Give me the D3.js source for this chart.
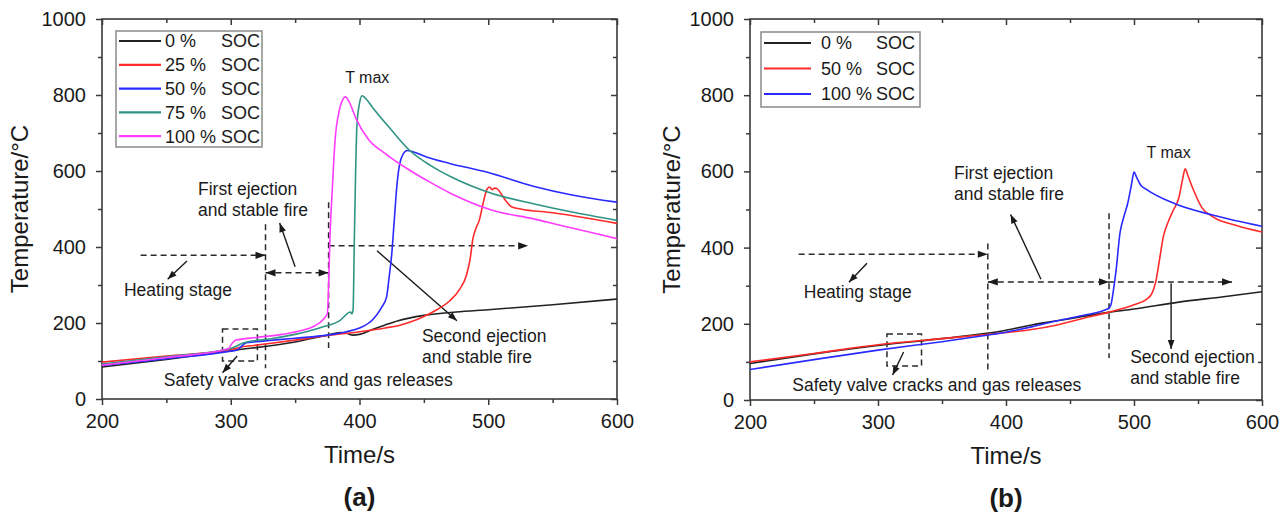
<!DOCTYPE html>
<html><head><meta charset="utf-8">
<script src="https://cdn.jsdelivr.net/npm/d3@7"></script>
<style>
body{margin:0;background:#fff}
svg{display:block}
text{font-family:"Liberation Sans",Arial,Helvetica,sans-serif;fill:#1a1a1a}
</style>
</head><body>
<svg id="chart" width="1288" height="516"></svg>
<script>
// ---------- axis ticks ----------
const xMajor = [200, 300, 400, 500, 600];
const xMinor = [250, 350, 450, 550];
const yMajor = [0, 200, 400, 600, 800, 1000];
const yMinor = [100, 300, 500, 700, 900];

// ---------- panel (a) series: [time s, temperature °C] ----------
const a_soc0 = [[200,84],[250,104],[300,127],[350,150],[375,168],[385,175],[390,173],[395,168],[400,170],[410,183],[420,195],[430,206],[450,220],[475,229],[500,235],[550,248],[600,263]];
const a_soc25 = [[200,97],[250,113],[300,130],[305,134],[310,138],[318,141],[330,146],[350,155],[375,167],[400,177],[420,187],[430,193],[440,203],[450,217],[460,235],[470,258],[478,290],[483,325],[486,370],[488,420],[490,445],[493,470],[496,515],[499,552],[501,558],[503,551],[505,555],[507,553],[510,540],[514,520],[518,506],[525,500],[550,490],[575,477],[600,462]];
const a_soc50 = [[200,88],[250,106],[300,126],[305,129],[308,138],[312,148],[320,151],[330,154],[350,160],[375,168],[390,177],[400,187],[410,208],[417,240],[421,268],[423,320],[425,380],[427,470],[429,560],[431,615],[434,645],[437,654],[442,650],[452,637],[470,620],[500,596],[535,560],[565,537],[600,518]];
const a_soc75 = [[200,92],[250,111],[300,133],[305,140],[310,148],[330,158],[350,170],[370,188],[385,207],[393,229],[394,224],[395,234],[396,420],[397,600],[398,720],[400,778],[402,798],[405,790],[410,768],[423,715],[439,654],[455,615],[471,585],[503,541],[535,514],[565,492],[600,470]];
const a_soc100 = [[200,89],[250,109],[298,132],[301,146],[304,155],[320,162],[340,170],[355,180],[365,192],[372,210],[375,225],[376,300],[377,420],[379,560],[381,680],[384,755],[387,788],[389,795],[392,782],[397,740],[407,683],[420,646],[439,602],[455,570],[471,541],[503,497],[535,474],[565,450],[600,422]];

// ---------- panel (b) series ----------
const b_soc0 = [[200,96],[250,121],[300,143],[350,161],[385,175],[400,183],[420,197],[440,208],[460,219],[480,230],[500,239],[535,257],[570,271],[600,284]];
const b_soc50 = [[200,100],[250,122],[300,145],[350,161],[385,172],[400,177],[420,185],[440,197],[460,214],[480,230],[500,250],[510,265],[514,280],[517,310],[520,370],[523,430],[527,470],[531,500],[535,530],[538,580],[540,607],[542,590],[546,555],[553,505],[562,480],[580,458],[600,441]];
const b_soc100 = [[200,80],[250,106],[300,131],[350,153],[385,170],[400,178],[420,192],[440,208],[460,222],[480,240],[482,250],[484,290],[486,340],[489,437],[492,480],[495,515],[498,565],[500,598],[502,585],[505,565],[510,552],[532,515],[562,485],[600,456]];

// ---------- legends ----------
const a_legendPct = ["0 %", "25 %", "50 %", "75 %", "100 %"];
const b_legendPct = ["0 %", "50 %", "100 %"];
const legendUnit = "SOC";

// ---------- annotations (data coordinates) ----------
const a_dashed = [[230,378,327,378],[327,460,327,81],[327,332,376,332],[376,518,376,134],[376,403,531,403]];
const a_dashHeads = [[327,378,0],[327,332,180],[376,332,0],[531,403,0]];
const a_box = [293.6,184,320.7,100];
const a_arrows = [[266,363,251,315],[350,348,338,463],[413.6,390,475.7,206],[305,113,293.6,69]];
const a_labels = [["T max",406,847,"middle",16],["First ejection",274.6,552,"start",17.5],["and stable fire",274.6,499,"start",17.5],["Heating stage",217,286,"start",17.5],["Second ejection",448.5,166,"start",17.5],["and stable fire",448.5,110,"start",17.5],["Safety valve cracks and gas releases",248,50,"start",17.5]];

const b_dashed = [[238,382.5,385.8,382.5],[385.8,411,385.8,71],[385.8,310,576.6,310],[480.5,490,480.5,110]];
const b_dashHeads = [[385.8,382.5,0],[385.8,310,180],[480.5,310,0],[576.6,310,0]];
const b_box = [307,173,334,89];
const b_arrows = [[291.4,359,277.3,309],[427.3,317,403.6,487],[529,306.5,529,133.6],[320,126,311.4,65.5]];
const b_labels = [["T max",527,650,"middle",16],["First ejection",359.4,597,"start",17.5],["and stable fire",359.4,542,"start",17.5],["Heating stage",242,283,"start",17.5],["Second ejection",497,113,"start",17.5],["and stable fire",497,58,"start",17.5],["Safety valve cracks and gas releases",233,39,"start",17.5]];

const C = {black:"#222222", red:"#ff2a2a", blue:"#2a2aff", teal:"#2f9484", magenta:"#ff3cff"};

const svg = d3.select("#chart");

function drawPanel(o){
  const g = svg.append("g");
  const x = d3.scaleLinear().domain([200,600]).range([o.x0,o.x1]);
  const y = d3.scaleLinear().domain([0,1000]).range([o.y1,o.y0]);
  const axisCol = "#3a3a3a";

  // frame
  g.append("rect").attr("x",o.x0).attr("y",o.y0).attr("width",o.x1-o.x0).attr("height",o.y1-o.y0)
    .attr("fill","none").attr("stroke",axisCol).attr("stroke-width",1.6);

  const styleAx = sel => { sel.select(".domain").remove(); sel.selectAll("line").attr("stroke",axisCol).attr("stroke-width",1.5); };
  const styleTxt = s => s.selectAll("text").attr("font-size",20).attr("fill","#1a1a1a").attr("font-family","Liberation Sans, Arial, sans-serif");

  // bottom
  g.append("g").attr("transform",`translate(0,${o.y1})`)
    .call(d3.axisBottom(x).tickValues(xMajor).tickSize(6).tickPadding(9).tickFormat(d3.format("d")))
    .call(styleAx).call(styleTxt);
  g.append("g").attr("transform",`translate(0,${o.y1})`)
    .call(d3.axisBottom(x).tickValues(xMinor).tickSize(4).tickFormat(""))
    .call(styleAx);
  // top (inward)
  g.append("g").attr("transform",`translate(0,${o.y0})`)
    .call(d3.axisBottom(x).tickValues(xMajor).tickSize(6).tickFormat("")).call(styleAx);
  g.append("g").attr("transform",`translate(0,${o.y0})`)
    .call(d3.axisBottom(x).tickValues(xMinor).tickSize(4).tickFormat("")).call(styleAx);
  // left
  g.append("g").attr("transform",`translate(${o.x0},0)`)
    .call(d3.axisLeft(y).tickValues(yMajor).tickSize(6).tickPadding(10).tickFormat(d3.format("d")))
    .call(styleAx).call(styleTxt);
  g.append("g").attr("transform",`translate(${o.x0},0)`)
    .call(d3.axisLeft(y).tickValues(yMinor).tickSize(4).tickFormat("")).call(styleAx);
  // right (inward)
  g.append("g").attr("transform",`translate(${o.x1},0)`)
    .call(d3.axisLeft(y).tickValues(yMajor).tickSize(6).tickFormat("")).call(styleAx);
  g.append("g").attr("transform",`translate(${o.x1},0)`)
    .call(d3.axisLeft(y).tickValues(yMinor).tickSize(4).tickFormat("")).call(styleAx);

  // axis titles
  g.append("text").attr("x",(o.x0+o.x1)/2).attr("y",o.y1+64).attr("text-anchor","middle")
    .attr("font-size",24).text("Time/s");
  g.append("text").attr("transform",`translate(${o.x0-o.yTitleOff},${(o.y0+o.y1)/2}) rotate(-90)`)
    .attr("text-anchor","middle").attr("font-size",24).text("Temperature/°C");
  g.append("text").attr("x",(o.x0+o.x1)/2).attr("y",o.y1+107).attr("text-anchor","middle")
    .attr("font-size",26).attr("font-weight","bold").text(o.tag);

  // clip
  const cid = "clip"+o.tag.replace(/\W/g,"");
  svg.append("clipPath").attr("id",cid).append("rect").attr("x",o.x0).attr("y",o.y0).attr("width",o.x1-o.x0).attr("height",o.y1-o.y0);

  // annotations
  const ann = g.append("g");
  const dashStyle = s => s.attr("stroke","#2a2a2a").attr("stroke-width",1.5).attr("stroke-dasharray","6,4").attr("fill","none");
  o.dashed.forEach(d=>{
    ann.append("line").attr("x1",x(d[0])).attr("y1",y(d[1])).attr("x2",x(d[2])).attr("y2",y(d[3])).call(dashStyle);
  });
  const b = o.box;
  ann.append("rect").attr("x",x(b[0])).attr("y",y(b[1])).attr("width",x(b[2])-x(b[0])).attr("height",y(b[3])-y(b[1])).call(dashStyle);

  function head(px,py,angDeg,len=10,hw=3.6){
    const a = angDeg*Math.PI/180;
    const ux=Math.cos(a), uy=Math.sin(a);
    const bx=px-ux*len, by=py-uy*len;
    ann.append("path").attr("d",`M${px},${py}L${bx-uy*hw},${by+ux*hw}L${bx+uy*hw},${by-ux*hw}Z`).attr("fill","#1a1a1a");
  }
  o.dashHeads.forEach(h=>head(x(h[0]),y(h[1]),h[2]));
  o.arrows.forEach(a=>{
    const x1=x(a[0]),y1=y(a[1]),x2=x(a[2]),y2=y(a[3]);
    ann.append("line").attr("x1",x1).attr("y1",y1).attr("x2",x2).attr("y2",y2).attr("stroke","#1a1a1a").attr("stroke-width",1.4);
    head(x2,y2,Math.atan2(y2-y1,x2-x1)*180/Math.PI,9,3.4);
  });
  o.labels.forEach(l=>{
    ann.append("text").attr("x",x(l[1])).attr("y",y(l[2])).attr("dy","0.35em").attr("text-anchor",l[3])
      .attr("font-size",l[4]).text(l[0]);
  });

  // series
  const line = d3.line().x(d=>x(d[0])).y(d=>y(d[1])).curve(d3.curveMonotoneX);
  const lg = g.append("g").attr("clip-path",`url(#${cid})`);
  o.series.forEach(s=>{
    lg.append("path").datum(s.data).attr("d",line).attr("fill","none").attr("stroke",s.color).attr("stroke-width",1.6);
  });

  // legend
  const L = o.legend;
  g.append("rect").attr("x",L.x).attr("y",L.y).attr("width",L.w).attr("height",L.h)
    .attr("fill","#fff").attr("stroke","#8a8a8a").attr("stroke-width",1.5);
  o.series.forEach((s,i)=>{
    const cy = L.y + L.first + i*L.step;
    g.append("line").attr("x1",L.x+3).attr("x2",L.x+3+L.lineLen).attr("y1",cy).attr("y2",cy)
      .attr("stroke",s.color).attr("stroke-width",2.2);
    g.append("text").attr("x",L.x+L.pctX).attr("y",cy).attr("dy","0.35em").attr("font-size",18).text(s.pct);
    g.append("text").attr("x",L.x+L.unitX).attr("y",cy).attr("dy","0.35em").attr("font-size",18).text(legendUnit);
  });
}

drawPanel({
  tag:"(a)", x0:102, x1:617, y0:19, y1:399, yTitleOff:74,
  series:[
    {data:a_soc0,color:C.black,pct:a_legendPct[0]},
    {data:a_soc25,color:C.red,pct:a_legendPct[1]},
    {data:a_soc50,color:C.blue,pct:a_legendPct[2]},
    {data:a_soc75,color:C.teal,pct:a_legendPct[3]},
    {data:a_soc100,color:C.magenta,pct:a_legendPct[4]}
  ],
  legend:{x:116,y:31,w:146,h:116,first:10,step:23.8,lineLen:42,pctX:49,unitX:105},
  dashed:a_dashed, dashHeads:a_dashHeads, box:a_box, arrows:a_arrows, labels:a_labels
});

drawPanel({
  tag:"(b)", x0:750, x1:1262, y0:19, y1:400, yTitleOff:70,
  series:[
    {data:b_soc0,color:C.black,pct:b_legendPct[0]},
    {data:b_soc50,color:C.red,pct:b_legendPct[1]},
    {data:b_soc100,color:C.blue,pct:b_legendPct[2]}
  ],
  legend:{x:761,y:32,w:159,h:75,first:11,step:25.5,lineLen:47,pctX:60,unitX:115},
  dashed:b_dashed, dashHeads:b_dashHeads, box:b_box, arrows:b_arrows, labels:b_labels
});
</script>
</body></html>
